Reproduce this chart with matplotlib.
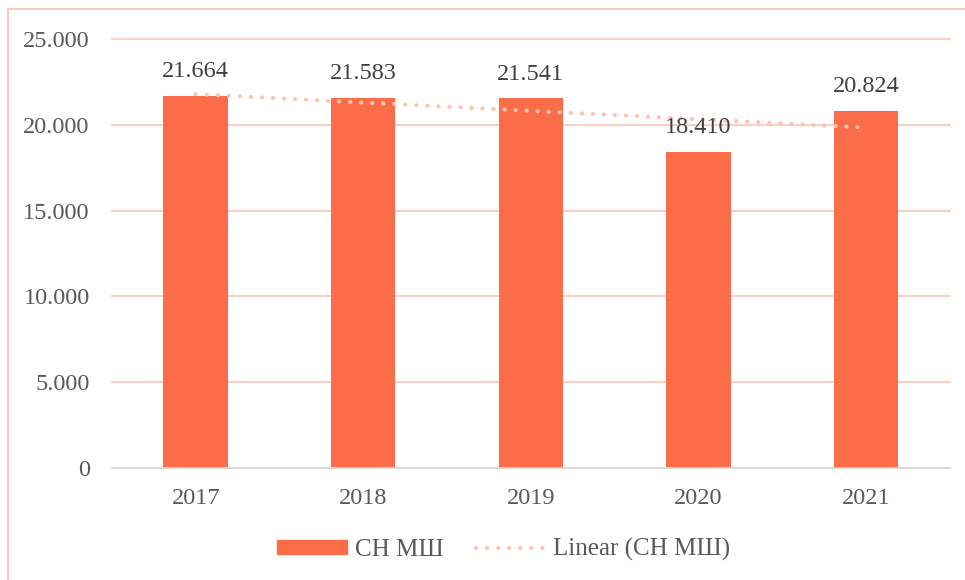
import numpy as np
import matplotlib
matplotlib.use('Agg')
import matplotlib.pyplot as plt
from matplotlib.patches import Rectangle
from matplotlib.lines import Line2D

years = ['2017', '2018', '2019', '2020', '2021']
values = [21664, 21583, 21541, 18410, 20824]
value_labels = ['21.664', '21.583', '21.541', '18.410', '20.824']
yticks = [0, 5000, 10000, 15000, 20000, 25000]
ytick_labels = ['0', '5.000', '10.000', '15.000', '20.000', '25.000']
series_name = 'СН МШ'

bar_color = '#FA6D48'
grid_color = '#FCCABC'
trend_color = '#FBC4B4'
text_color = '#595959'
dots = (0, (0.05, 2.6))

plt.rcParams['font.family'] = ['Liberation Serif', 'DejaVu Serif']

fig = plt.figure(figsize=(9.65, 5.8), dpi=100)
ax = fig.add_axes([0.116, 0.193, 0.868, 0.74])

x = np.arange(len(years))
ax.bar(x, values, width=0.385, color=bar_color, zorder=3)

# linear trendline over the categories
k, b = np.polyfit(x, values, 1)
ax.plot(x, k * x + b, color=trend_color, lw=3, ls=dots,
        dash_capstyle='round', zorder=4)

for xi, v, lab in zip(x, values, value_labels):
  ax.text(xi, v + 800, lab, ha='center', va='bottom', fontsize=17.5, color='#404040', zorder=5)

ax.set_xlim(-0.5, len(years) - 0.5)
ax.set_ylim(0, 25000)
ax.set_yticks(yticks)
ax.set_yticklabels(ytick_labels)
ax.set_xticks(x)
ax.set_xticklabels(years)
ax.tick_params(length=0, labelsize=17.5, labelcolor=text_color)
ax.tick_params(axis='y', pad=16)
ax.tick_params(axis='x', pad=14)
ax.yaxis.grid(True, color=grid_color, lw=1.3, zorder=0)
for gl in ax.get_ygridlines():
  gl.set_clip_on(False)
for s in ['top', 'right', 'left']:
  ax.spines[s].set_visible(False)
ax.spines['bottom'].set_color('#D9D9D9')
ax.spines['bottom'].set_linewidth(1.3)
ax.spines['bottom'].set_zorder(3.5)

handles = [Rectangle((0, 0), 1, 1, color=bar_color),
           Line2D([0], [0], color=trend_color, lw=3, ls=dots, dash_capstyle='round')]
leg = fig.legend(handles, [series_name, 'Linear (' + series_name + ')'], loc='center',
                 bbox_to_anchor=(0.522, 0.052), ncol=2, frameon=False, fontsize=18,
                 handlelength=2.8, handleheight=0.5, columnspacing=1.3, handletextpad=0.3)
for t in leg.get_texts():
  t.set_color(text_color)

# chart border
fig.patches.append(Rectangle((8 / 965, -0.1), 1.2, 1.1 - 9 / 580, transform=fig.transFigure,
                             fill=False, edgecolor=grid_color, lw=1.5))

fig.savefig('out.png', dpi=100)
